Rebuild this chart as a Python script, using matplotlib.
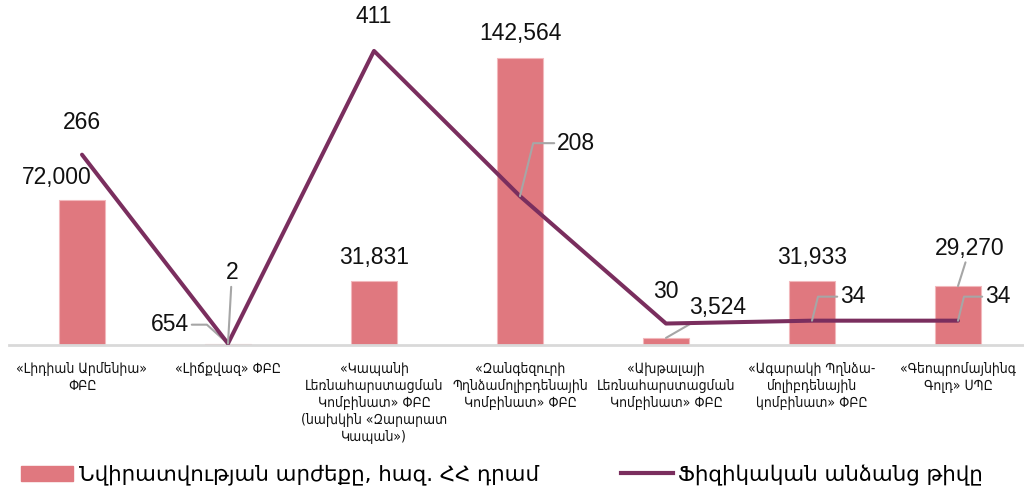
import numpy as np
import matplotlib
matplotlib.use("Agg")
from matplotlib import pyplot as plt
from matplotlib.patches import Patch
from matplotlib.lines import Line2D

# data
companies = [
	"«Լիդիան Արմենիա»\nՓԲԸ",
	"«Լիճքվազ» ՓԲԸ",
	"«Կապանի\nԼեռնահարստացման\nԿոմբինատ» ՓԲԸ\n(նախկին «Զարարատ\nԿապան»)",
	"«Զանգեզուրի\nՊղնձամոլիբդենային\nԿոմբինատ» ՓԲԸ",
	"«Ախթալայի\nԼեռնահարստացման\nԿոմբինատ» ՓԲԸ",
	"«Ագարակի Պղնձա-\nմոլիբդենային\nկոմբինատ» ՓԲԸ",
	"«Գեոպրոմայնինգ\nԳոլդ» ՍՊԸ",
]
donation_value = [72000, 654, 31831, 142564, 3524, 31933, 29270]
persons_count = [266, 2, 411, 208, 30, 34, 34]

bar_name = "Նվիրատվության արժեքը, հազ. ՀՀ դրամ"
line_name = "Ֆիզիկական անձանց թիվը"

bar_color = "#E0787F"
line_color = "#7A2E5E"
lead_color = "#A6A6A6"
num_font = ["Liberation Sans", "DejaVu Sans"]

fig = plt.figure(figsize=(10.24, 4.93), dpi=100)
W, H = 1024.0, 493.0
ax = fig.add_axes([9 / W, (H - 345) / H, 1015 / W, 322 / H])
ax2 = ax.twinx()

x = np.arange(len(companies))
ax.bar(x, donation_value, width=0.31, color=bar_color, edgecolor="#F2B8BC", linewidth=0.8, zorder=2)
ax2.plot(x, persons_count, color=line_color, linewidth=2.9, solid_capstyle="round", zorder=3)

ax.set_xlim(-0.5, -0.5 + 1015 / 146.0)
ax.set_ylim(0, 160000)
ax2.set_ylim(0, 450)

for a in (ax, ax2):
	for s in ["top", "right", "left"]:
		a.spines[s].set_visible(False)
	a.set_yticks([])
ax2.spines["bottom"].set_visible(False)
ax.spines["bottom"].set_color("#D9D9D9")
ax.spines["bottom"].set_linewidth(2)

ax.set_xticks(x)
ax.set_xticklabels(companies, fontsize=10, family="DejaVu Sans", fontstretch="condensed",
	linespacing=1.28, color="#111111")
ax.tick_params(axis="x", length=0, pad=12)

# data labels: (offset in pixels, alignment, leader style)
bar_lab = [
	((-25, 23), "center", None),
	((-39, 19), "right", "angle,angleA=0,angleB=138"),
	((0, 23), "center", None),
	((0, 25), "center", None),
	((52, 30), "center", "arc3"),
	((0, 23), "center", None),
	((12, 38), "center", "arc3"),
]
line_lab = [
	((0, 32), "center", None),
	((4, 71), "center", "arc3"),
	((0, 34), "center", None),
	((37, 53), "left", "angle,angleA=0,angleB=76"),
	((0, 32), "center", None),
	((28, 24), "left", "angle,angleA=0,angleB=76"),
	((27, 24), "left", "angle,angleA=0,angleB=76"),
]

def put_labels(a, vals, specs):
	for i in range(len(vals)):
		off, ha, conn = specs[i]
		arrow = None
		if conn is not None:
			arrow = dict(arrowstyle="-", color=lead_color, lw=1.5, connectionstyle=conn, shrinkA=0, shrinkB=0)
		a.annotate(f"{vals[i]:,}", xy=(x[i], vals[i]), xytext=off, textcoords="offset pixels",
			ha=ha, va="center", fontsize=16.5, family=num_font, color="#111111",
			arrowprops=arrow, zorder=5)

put_labels(ax, donation_value, bar_lab)
put_labels(ax2, persons_count, line_lab)

# legend
h1 = Patch(facecolor=bar_color, edgecolor=bar_color)
h2 = Line2D([0], [0], color=line_color, lw=3)
fig.legend([h1], [bar_name], loc="center left", bbox_to_anchor=(2 / W, 1 - 475 / H),
	frameon=False, handlelength=2.4, handleheight=0.7, handletextpad=0.3,
	prop={"family": "DejaVu Sans", "size": 15.4})
fig.legend([h2], [line_name], loc="center left", bbox_to_anchor=(602 / W, 1 - 475 / H),
	frameon=False, handlelength=2.4, handletextpad=0.25,
	prop={"family": "DejaVu Sans", "size": 15.4})

fig.savefig("out.png", dpi=100)
